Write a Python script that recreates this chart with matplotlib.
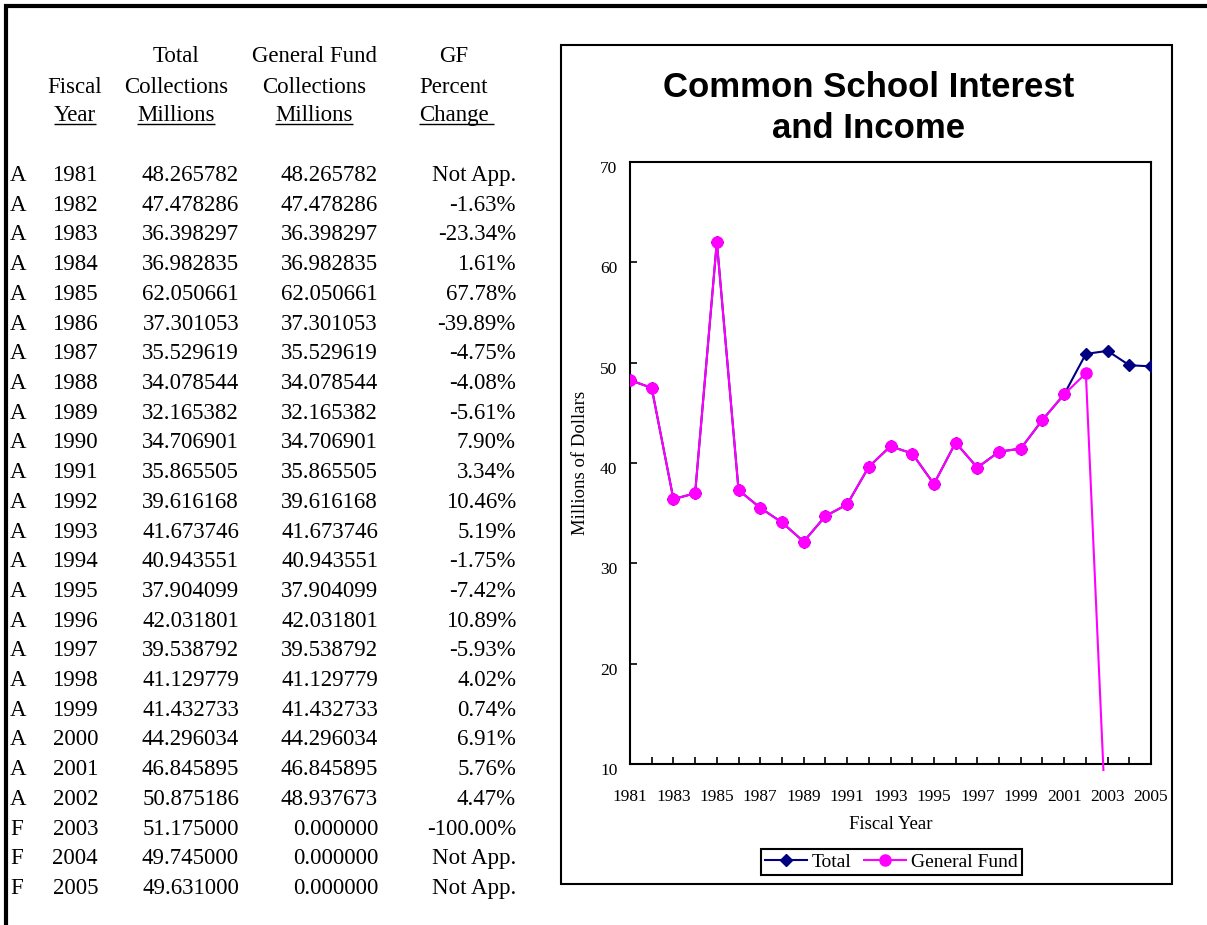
import numpy as np
import matplotlib
matplotlib.use("Agg")
import matplotlib.pyplot as plt
from matplotlib.patches import Rectangle
from matplotlib.ticker import FixedLocator
from matplotlib.transforms import ScaledTranslation

# ---- data (from the table) ----
years = list(range(1981, 2006))
flags = ["A"] * 22 + ["F"] * 3
total_collections = [48.265782, 47.478286, 36.398297, 36.982835, 62.050661,
                     37.301053, 35.529619, 34.078544, 32.165382, 34.706901,
                     35.865505, 39.616168, 41.673746, 40.943551, 37.904099,
                     42.031801, 39.538792, 41.129779, 41.432733, 44.296034,
                     46.845895, 50.875186, 51.175000, 49.745000, 49.631000]
gf_collections = [48.265782, 47.478286, 36.398297, 36.982835, 62.050661,
                  37.301053, 35.529619, 34.078544, 32.165382, 34.706901,
                  35.865505, 39.616168, 41.673746, 40.943551, 37.904099,
                  42.031801, 39.538792, 41.129779, 41.432733, 44.296034,
                  46.845895, 48.937673, 0.0, 0.0, 0.0]
gf_pct_change = ["Not App.", "-1.63%", "-23.34%", "1.61%", "67.78%", "-39.89%",
                 "-4.75%", "-4.08%", "-5.61%", "7.90%", "3.34%", "10.46%",
                 "5.19%", "-1.75%", "-7.42%", "10.89%", "-5.93%", "4.02%",
                 "0.74%", "6.91%", "5.76%", "4.47%", "-100.00%", "Not App.",
                 "Not App."]

W, H = 1207, 925
SERIF = "Liberation Serif"
SANS = "Liberation Sans"
TFS = 16.5  # table font size

fig = plt.figure(figsize=(W / 100, H / 100), dpi=100)
fig.patch.set_facecolor("white")

# background axes in pixel units (y down) for the table and the frames
bg = fig.add_axes([0, 0, 1, 1])
bg.set_xlim(0, W)
bg.set_ylim(H, 0)
bg.axis("off")

# thick page border (top and left)
bg.plot([4, W], [6, 6], color="black", lw=3, solid_capstyle="butt")
bg.plot([6, 6], [4, H], color="black", lw=3, solid_capstyle="butt")

# chart box
bg.add_patch(Rectangle((561, 45), 611, 839, fill=False, ec="black", lw=1.5))

# ---- table header ----
col_year, col_tot, col_gf, col_pct = 75, 176, 314, 454
hdr = [
    (62, ["", "Total", "General Fund", "GF"]),
    (93, ["Fiscal", "Collections", "Collections", "Percent"]),
    (121, ["Year", "Millions", "Millions", "Change"]),
]
under_texts = []
for y, labels in hdr:
    for x, lab in zip([col_year, col_tot, col_gf, col_pct], labels):
        if not lab:
            continue
        t = bg.text(x, y, lab, ha="center", va="baseline", fontsize=TFS, family=SERIF)
        if y == 121:
            under_texts.append(t)

# ---- table rows ----
row0, dy = 181, 29.71
for i in range(len(years)):
    y = row0 + i * dy
    bg.text(10, y, flags[i], ha="left", va="baseline", fontsize=TFS, family=SERIF)
    bg.text(98, y, str(years[i]), ha="right", va="baseline", fontsize=TFS, family=SERIF)
    bg.text(239, y, f"{total_collections[i]:.6f}", ha="right", va="baseline", fontsize=TFS, family=SERIF)
    bg.text(378, y, f"{gf_collections[i]:.6f}", ha="right", va="baseline", fontsize=TFS, family=SERIF)
    bg.text(516, y, gf_pct_change[i], ha="right", va="baseline", fontsize=TFS, family=SERIF)

# title
bg.text(869, 108, "Common School Interest\nand Income", ha="center", va="center",
        fontsize=25, fontweight="bold", family=SANS, linespacing=1.3)

# ---- chart ----
ax = fig.add_axes([630 / W, 1 - 764 / H, 521 / W, 602 / H])
clip = Rectangle((0, -0.012), 1, 1.012, transform=ax.transAxes)
l1, = ax.plot(years, total_collections, color="#000080", marker="D", ms=6,
              lw=1.5, label="Total", zorder=3)
l2, = ax.plot(years, gf_collections, color="#FF00FF", marker="o", ms=8,
              lw=1.5, label="General Fund", zorder=4)
for ln in (l1, l2):
    ln.set_clip_path(clip)

ax.set_xlim(1981, 2005)
ax.set_ylim(10, 70)
ax.xaxis.set_major_locator(FixedLocator(years[::2]))
ax.xaxis.set_minor_locator(FixedLocator(years[1::2]))
ax.set_yticks(range(10, 71, 10))
ax.tick_params(which="both", direction="in", length=5, width=1.2)
ax.tick_params(axis="x", which="major", pad=18)
ax.tick_params(axis="y", pad=9)
for s in ax.spines.values():
    s.set_linewidth(1.5)
for lab in ax.get_xticklabels():
    lab.set_family(SERIF)
    lab.set_fontsize(12.5)
shift_down = ScaledTranslation(0, -5 / 100, fig.dpi_scale_trans)
for lab in ax.get_yticklabels():
    lab.set_family(SERIF)
    lab.set_fontsize(12.5)
    lab.set_transform(lab.get_transform() + shift_down)

ax.set_xlabel("Fiscal Year", family=SERIF, fontsize=13.5)
ax.xaxis.set_label_coords(0.5, -0.087)
ax.set_ylabel("Millions of Dollars", family=SERIF, fontsize=13.5)
ax.yaxis.set_label_coords(-0.079, 0.5)

leg = ax.legend(loc="center", bbox_to_anchor=(0.502, -0.163), ncol=2,
                prop={"family": SERIF, "size": 14}, frameon=True, fancybox=False,
                edgecolor="black", framealpha=1, borderpad=0.2, handlelength=2.15,
                handletextpad=0.25, columnspacing=0.65, borderaxespad=0)
leg.get_frame().set_linewidth(1.5)

# underline the last header row
fig.canvas.draw()
rend = fig.canvas.get_renderer()
for t in under_texts:
    bb = t.get_window_extent(rend)
    extra = 5 if t.get_text() == "Change" else 0
    bg.plot([bb.x0, bb.x1 + extra], [124, 124], color="black", lw=1, solid_capstyle="butt")

fig.savefig("out.png", dpi=100)
